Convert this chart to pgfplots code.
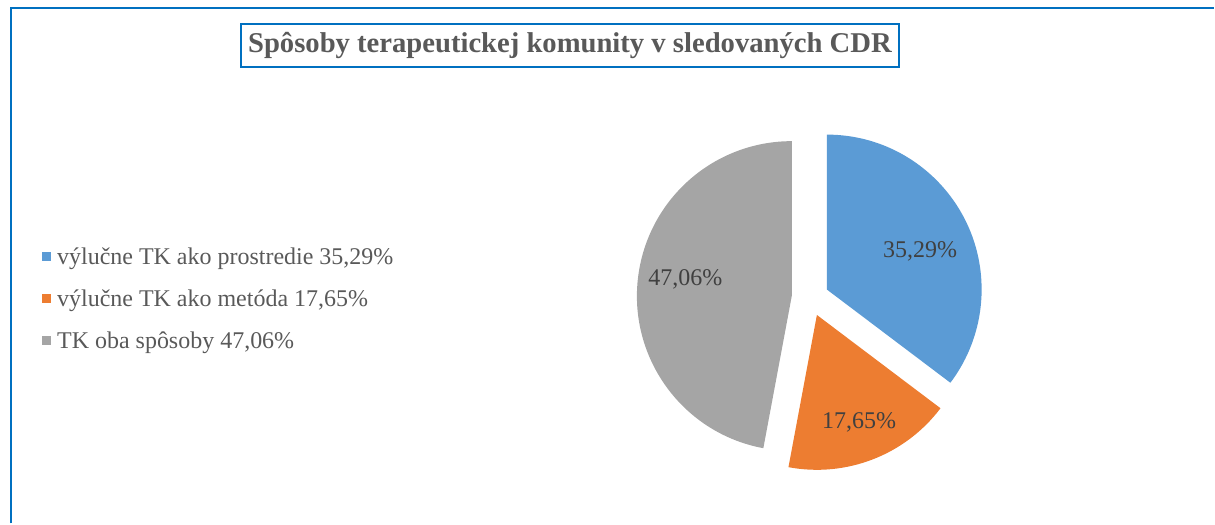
\documentclass[border=0pt]{standalone}
\usepackage{fontspec}
\setmainfont{Liberation Serif}
\usepackage{pgfplots}
\pgfplotsset{compat=1.18}
\definecolor{pieblue}{HTML}{5B9BD5}
\definecolor{pieorange}{HTML}{ED7D31}
\definecolor{piegray}{HTML}{A5A5A5}
\definecolor{frameblue}{HTML}{0070C0}
\definecolor{txtgray}{HTML}{595959}
\definecolor{lblgray}{HTML}{404040}

\begin{document}
\begin{tikzpicture}
% shares (percent)
\def\vA{35.29}
\def\vB{17.65}
\def\vC{47.06}
% slice angles, clockwise from the top
\pgfmathsetmacro\aA{90}
\pgfmathsetmacro\aB{\aA-3.6*\vA}
\pgfmathsetmacro\aC{\aB-3.6*\vB}
\pgfmathsetmacro\aD{\aC-3.6*\vC}
\pgfmathsetmacro\mA{(\aA+\aB)/2}
\pgfmathsetmacro\mB{(\aB+\aC)/2}
\pgfmathsetmacro\mC{(\aC+\aD)/2}
\def\rad{116.25pt}
\def\expl{13.9pt}
\begin{axis}[
    x=0.75pt, y=0.75pt,
    scale only axis,
    hide axis,
    clip=false,
    xmin=0, xmax=1215,
    ymin=0, ymax=524,
    legend style={
        at={(axis cs:38,225)},
        anchor=west,
        draw=none,
        fill=none,
        font=\fontsize{18}{20}\selectfont,
        text=txtgray,
        row sep=13.5pt,
        nodes={inner xsep=1pt},
    },
    legend cell align=left,
    legend image code/.code={\fill[#1] (0pt,-3pt) rectangle (6pt,3pt);
        \path[draw=none, fill=none] (0pt,0pt) -- (10pt,0pt);},
]
\path (axis cs:0,0) rectangle (axis cs:1215,524);

\addlegendimage{pieblue}
\addlegendentry{výlučne TK ako prostredie 35,29\%}
\addlegendimage{pieorange}
\addlegendentry{výlučne TK ako metóda 17,65\%}
\addlegendimage{piegray}
\addlegendentry{TK oba spôsoby 47,06\%}

% exploded slices
\fill[pieblue] ([shift={(\mA:\expl)}]axis cs:811,226) -- ++(\aA:\rad)
    arc[start angle=\aA, end angle=\aB, radius=\rad] -- cycle;
\fill[pieorange] ([shift={(\mB:\expl)}]axis cs:811,226) -- ++(\aB:\rad)
    arc[start angle=\aB, end angle=\aC, radius=\rad] -- cycle;
\fill[piegray] ([shift={(\mC:\expl)}]axis cs:811,226) -- ++(\aC:\rad)
    arc[start angle=\aC, end angle=\aD, radius=\rad] -- cycle;

% data labels
\node[text=lblgray, font=\fontsize{18}{20}\selectfont] at (axis cs:921,272) {35,29\%};
\node[text=lblgray, font=\fontsize{18}{20}\selectfont] at (axis cs:860,101) {17,65\%};
\node[text=lblgray, font=\fontsize{18}{20}\selectfont] at (axis cs:686,244) {47,06\%};

% chart frame
\draw[frameblue, line width=1.8pt] (axis cs:11,0) -- (axis cs:11,516) -- (axis cs:1215,516);

% title
\node[draw=frameblue, line width=1.4pt, fill=white, text=txtgray,
      font=\bfseries\fontsize{21.5}{24}\selectfont,
      minimum width=494pt, minimum height=32pt, inner sep=0pt]
      at (axis cs:570.5,478.5) {Spôsoby terapeutickej komunity v sledovaných CDR};
\end{axis}
\end{tikzpicture}
\end{document}
